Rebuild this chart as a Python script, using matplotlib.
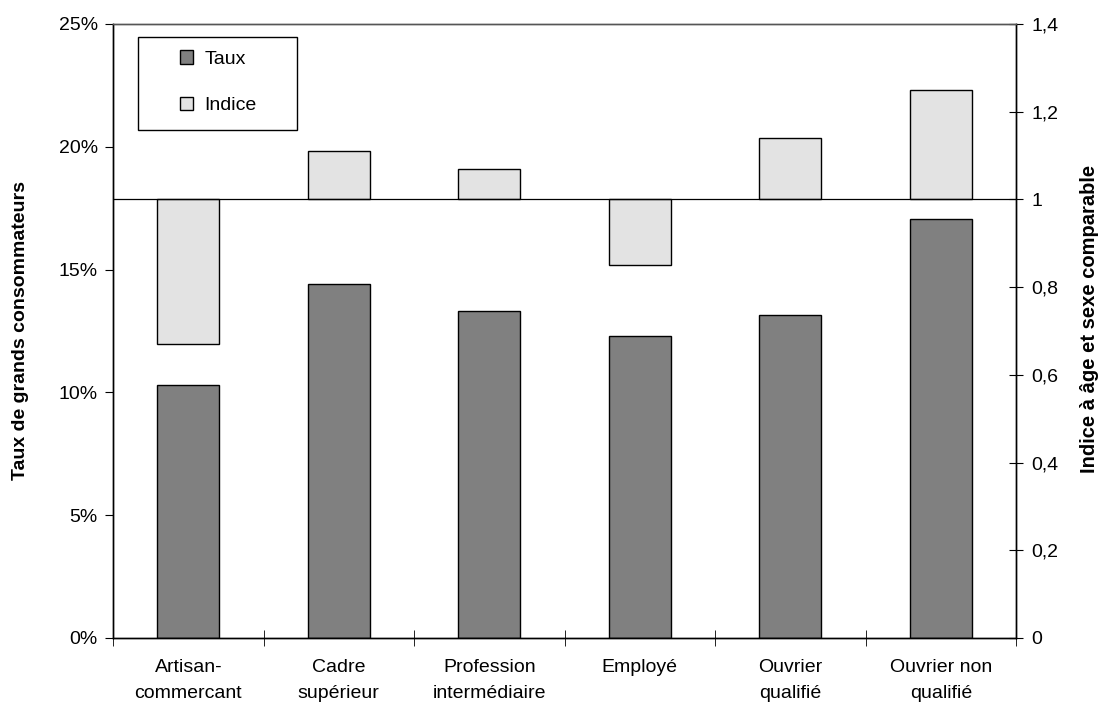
import numpy as np
import matplotlib.pyplot as plt
from matplotlib.patches import Rectangle
from matplotlib.ticker import FuncFormatter, FixedLocator

plt.rcParams['font.family'] = ['Liberation Sans', 'DejaVu Sans']

categories = ["Artisan-\ncommercant", "Cadre\nsupérieur", "Profession\nintermédiaire",
              "Employé", "Ouvrier\nqualifié", "Ouvrier non\nqualifié"]
taux = [10.3, 14.4, 13.3, 12.3, 13.15, 17.05]      # % grands consommateurs
indice = [0.67, 1.11, 1.07, 0.85, 1.14, 1.25]      # indice à âge et sexe comparable

x = np.arange(len(categories))
width = 0.41
fs = 14

fig = plt.figure(figsize=(11.05, 7.04), dpi=100)
ax = fig.add_axes([0.1023, 0.0938, 0.8172, 0.8722])
ax2 = ax.twinx()

ax.bar(x, taux, width, color="#808080", edgecolor="black", linewidth=1, label="Taux")
ax2.bar(x, [v - 1 for v in indice], width, bottom=1, color="#e3e3e3",
        edgecolor="black", linewidth=1, label="Indice")
ax2.axhline(1, color="black", linewidth=0.9)

ax.set_xlim(-0.5, len(categories) - 0.5)
ax.set_ylim(0, 25)
ax2.set_ylim(0, 1.4)

# left axis
ax.set_yticks([0, 5, 10, 15, 20, 25])
ax.yaxis.set_major_formatter(FuncFormatter(lambda v, p: f"{v:.0f}%"))
ax.tick_params(axis="y", direction="out", length=6, labelsize=fs, pad=5)
ax.set_ylabel("Taux de grands consommateurs", fontsize=14, fontweight="bold")
ax.yaxis.set_label_coords(-0.093, 0.5)

# right axis
ax2.set_yticks(np.arange(0, 1.41, 0.2))
ax2.yaxis.set_major_formatter(FuncFormatter(lambda v, p: f"{v:.1f}".replace(".", ",").replace(",0", "")))
ax2.tick_params(axis="y", direction="inout", length=10, labelsize=fs, pad=6)
ax2.set_ylabel("Indice à âge et sexe comparable", fontsize=14.5, fontweight="bold")
ax2.yaxis.set_label_coords(1.071, 0.52)

# categories: labels centred, ticks on the boundaries
ax.set_xticks(x)
ax.set_xticklabels(categories, fontsize=fs, linespacing=1.7)
ax.tick_params(axis="x", which="major", length=0, pad=15)
ax.xaxis.set_minor_locator(FixedLocator(np.arange(-0.5, len(categories), 1.0)))
ax.tick_params(axis="x", which="minor", direction="inout", length=12)

for a in (ax, ax2):
    for s in a.spines.values():
        s.set_linewidth(1)
ax.spines["top"].set_color("#555555")
ax2.spines["top"].set_color("#555555")

# legend box drawn separately so the entries can sit well inside it
ax2.add_patch(Rectangle((0.0277, 0.827), 0.176, 0.1515, transform=ax2.transAxes,
                        facecolor="white", edgecolor="black", linewidth=1, zorder=4))
leg = ax2.legend(handles=ax.containers[0:1] + ax2.containers[0:1], labels=["Taux", "Indice"],
                 loc="upper left", bbox_to_anchor=(0.0742, 0.957), fontsize=fs,
                 frameon=False, labelspacing=1.5, borderpad=0.0,
                 handlelength=0.67, handleheight=0.67, handletextpad=0.6,
                 borderaxespad=0.0)
leg.set_zorder(5)

fig.savefig("out.png", dpi=100)
